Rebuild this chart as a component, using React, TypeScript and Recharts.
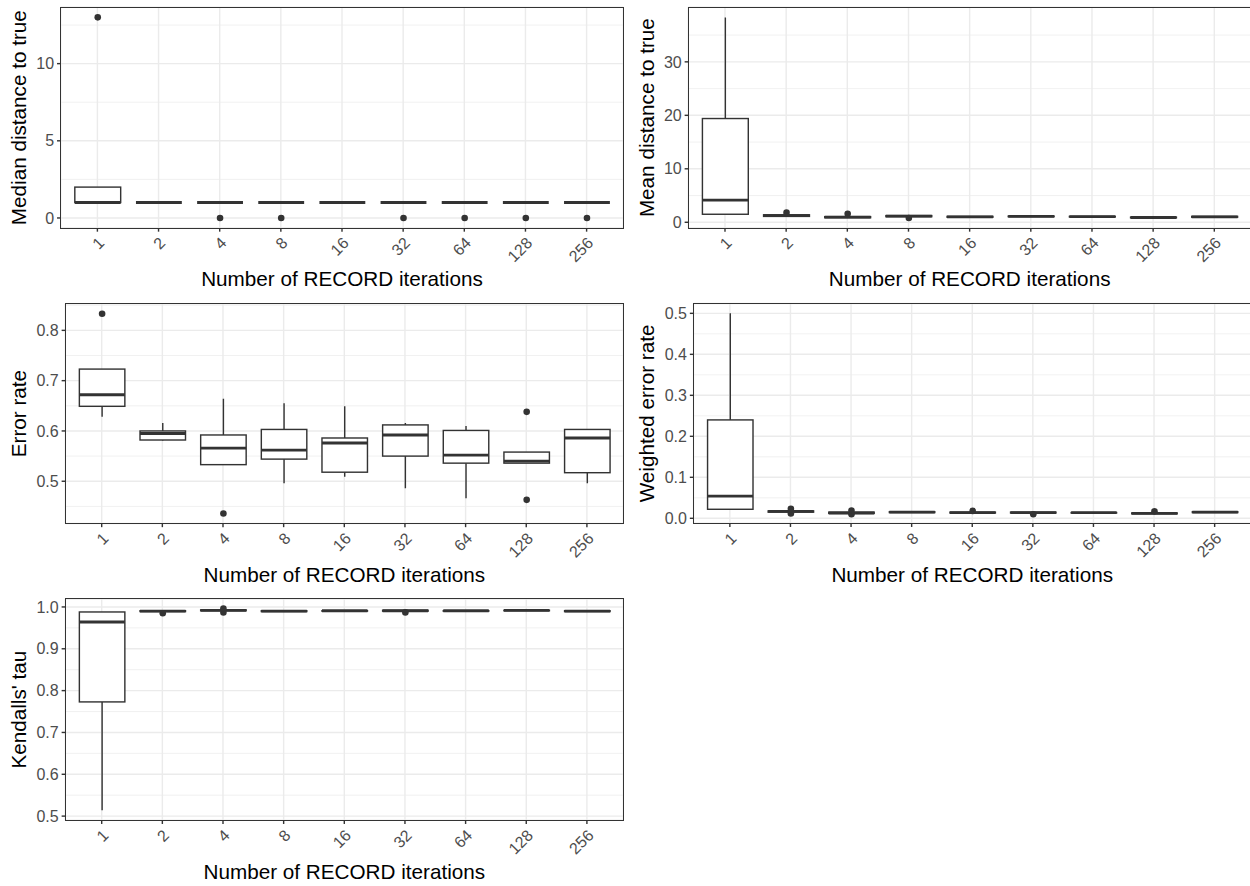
import React from 'react';
import { ComposedChart, Bar, XAxis, YAxis, CartesianGrid } from 'recharts';

const categories = ['1', '2', '4', '8', '16', '32', '64', '128', '256'];
const xTitle = 'Number of RECORD iterations';

// Panel 1: Median distance to true
const medDistLo = [1, 1, 1, 1, 1, 1, 1, 1, 1];
const medDistQ1 = [1, 1, 1, 1, 1, 1, 1, 1, 1];
const medDistMed = [1, 1, 1, 1, 1, 1, 1, 1, 1];
const medDistQ3 = [2, 1, 1, 1, 1, 1, 1, 1, 1];
const medDistHi = [2, 1, 1, 1, 1, 1, 1, 1, 1];
const medDistOut = [[13], [], [0], [0], [], [0], [0], [0], [0]];
const medDistTicks = [0, 5, 10];
const medDistMinor = [2.5, 7.5, 12.5];
const medDistDomain = [-0.65, 13.65];

// Panel 2: Mean distance to true
const meanDistLo = [1.5, 1.0, 0.8, 1.0, 0.9, 1.0, 0.95, 0.8, 0.9];
const meanDistQ1 = [1.5, 1.1, 0.85, 1.05, 0.95, 1.05, 1.0, 0.85, 0.95];
const meanDistMed = [4.15, 1.25, 0.95, 1.15, 1.0, 1.1, 1.05, 0.9, 1.0];
const meanDistQ3 = [19.4, 1.4, 1.05, 1.25, 1.1, 1.15, 1.1, 0.95, 1.1];
const meanDistHi = [38.3, 1.45, 1.1, 1.3, 1.15, 1.2, 1.15, 1.0, 1.15];
const meanDistOut = [[], [1.8], [1.6], [0.8], [], [], [], [], []];
const meanDistTicks = [0, 10, 20, 30];
const meanDistMinor = [5, 15, 25, 35];
const meanDistDomain = [-1.07, 40.2];

// Panel 3: Error rate
const errLo = [0.628, 0.581, 0.533, 0.496, 0.509, 0.486, 0.466, 0.536, 0.496];
const errQ1 = [0.649, 0.582, 0.533, 0.544, 0.518, 0.55, 0.536, 0.536, 0.517];
const errMed = [0.672, 0.595, 0.566, 0.562, 0.576, 0.592, 0.552, 0.54, 0.586];
const errQ3 = [0.723, 0.6, 0.592, 0.603, 0.586, 0.612, 0.601, 0.558, 0.603];
const errHi = [0.723, 0.616, 0.664, 0.655, 0.649, 0.616, 0.61, 0.558, 0.603];
const errOut = [[0.833], [], [0.436], [], [], [], [], [0.638, 0.463], []];
const errTicks = [0.5, 0.6, 0.7, 0.8];
const errMinor = [0.45, 0.55, 0.65, 0.75, 0.85];
const errDomain = [0.416, 0.853];

// Panel 4: Weighted error rate
const wErrLo = [0.022, 0.014, 0.011, 0.014, 0.013, 0.013, 0.013, 0.011, 0.014];
const wErrQ1 = [0.022, 0.015, 0.012, 0.014, 0.013, 0.013, 0.013, 0.011, 0.014];
const wErrMed = [0.054, 0.017, 0.013, 0.015, 0.014, 0.014, 0.014, 0.012, 0.015];
const wErrQ3 = [0.24, 0.018, 0.015, 0.016, 0.015, 0.015, 0.014, 0.013, 0.016];
const wErrHi = [0.5, 0.02, 0.016, 0.017, 0.016, 0.016, 0.015, 0.014, 0.016];
const wErrOut = [[], [0.012, 0.023], [0.01, 0.019], [], [0.018], [0.01], [], [0.017], []];
const wErrTicks = [0, 0.1, 0.2, 0.3, 0.4, 0.5];
const wErrMinor = [0.05, 0.15, 0.25, 0.35, 0.45];
const wErrDomain = [-0.0122, 0.524];

// Panel 5: Kendalls' tau
const tauLo = [0.514, 0.989, 0.99, 0.989, 0.99, 0.99, 0.99, 0.991, 0.989];
const tauQ1 = [0.773, 0.989, 0.991, 0.989, 0.99, 0.99, 0.99, 0.991, 0.989];
const tauMed = [0.964, 0.99, 0.992, 0.99, 0.991, 0.991, 0.991, 0.992, 0.99];
const tauQ3 = [0.988, 0.991, 0.993, 0.991, 0.991, 0.992, 0.991, 0.992, 0.991];
const tauHi = [0.988, 0.992, 0.994, 0.991, 0.992, 0.992, 0.992, 0.993, 0.991];
const tauOut = [[], [0.985], [0.987, 0.996], [], [], [0.987], [], [], []];
const tauTicks = [0.5, 0.6, 0.7, 0.8, 0.9, 1.0];
const tauMinor = [0.55, 0.65, 0.75, 0.85, 0.95];
const tauDomain = [0.49, 1.019];

const FONT = '"Liberation Sans", Arial, Helvetica, sans-serif';
const DARK = '#333333';
const GRID = '#EBEBEB';
const TICK_TEXT = '#4D4D4D';
const TICK_FS = 16;
const TITLE_FS = 20.7;
const TICK_LEN = 3.67;
const LW = 1.42;

function buildRows(lo: number[], q1: number[], med: number[], q3: number[], hi: number[], out: number[][]) {
  return categories.map((cat, i) => {
    const all = [lo[i], hi[i], ...out[i]];
    return {
      cat,
      lo: lo[i],
      q1: q1[i],
      med: med[i],
      q3: q3[i],
      hi: hi[i],
      out: out[i],
      range: [Math.min(...all), Math.max(...all)],
    };
  });
}

const BoxShape = (props: any) => {
  const { x, y, width, height, payload } = props;
  if (payload == null || x == null || y == null) return null;
  const [rmin, rmax] = payload.range;
  const h = height || 0;
  const top = Math.min(y, y + h);
  const bot = Math.max(y, y + h);
  const pix = (v: number) => (rmax > rmin ? bot - ((v - rmin) / (rmax - rmin)) * (bot - top) : top);
  const cx = x + width / 2;
  const yq3 = pix(payload.q3);
  const yq1 = pix(payload.q1);
  return (
    <g>
      <line x1={cx} x2={cx} y1={pix(payload.hi)} y2={yq3} stroke={DARK} strokeWidth={LW} />
      <line x1={cx} x2={cx} y1={pix(payload.lo)} y2={yq1} stroke={DARK} strokeWidth={LW} />
      <rect x={x} y={yq3} width={width} height={Math.max(0, yq1 - yq3)} fill="#FFFFFF" stroke={DARK} strokeWidth={LW} />
      <line x1={x} x2={x + width} y1={pix(payload.med)} y2={pix(payload.med)} stroke={DARK} strokeWidth={LW * 2} />
      {payload.out.map((v: number, k: number) => (
        <circle key={k} cx={cx} cy={pix(v)} r={3.3} fill={DARK} />
      ))}
    </g>
  );
};

const XTick = (props: any) => {
  const { x, y, payload } = props;
  return (
    <text
      transform={`translate(${x + 7.8},${y + 12.4}) rotate(-45)`}
      textAnchor="end"
      fontSize={TICK_FS}
      fill={TICK_TEXT}
      fontFamily={FONT}
    >
      {payload.value}
    </text>
  );
};

type PanelCfg = {
  title: string;
  rows: any[];
  domain: number[];
  ticks: number[];
  minor: number[];
  fmt: (v: number) => string;
  x0: number;
  y0: number;
  w: number;
  h: number;
  L: number;
  T: number;
  R: number;
  B: number;
  titleX: number;
};

const Panel = ({ cfg }: { cfg: PanelCfg }) => {
  const { L, T, R, B, w, h } = cfg;
  const pw = R - L;
  const unit = pw / 9.2;
  const pad = unit * 0.1;
  const barSize = unit * 0.75;
  return (
    <div style={{ position: 'absolute', left: cfg.x0, top: cfg.y0, width: w, height: h }}>
      <ComposedChart
        width={w}
        height={h}
        data={cfg.rows}
        margin={{ top: T, right: w - R, bottom: 0, left: 0 }}
        style={{ fontFamily: FONT }}
      >
        <CartesianGrid
          stroke={GRID}
          strokeWidth={LW / 2}
          vertical={false}
          horizontalValues={cfg.minor}
        />
        <CartesianGrid stroke={GRID} strokeWidth={LW} />
        <XAxis
          dataKey="cat"
          type="category"
          interval={0}
          padding={{ left: pad, right: pad }}
          height={h - B}
          tickSize={TICK_LEN}
          tickMargin={0}
          axisLine={false}
          tickLine={{ stroke: DARK, strokeWidth: LW }}
          tick={<XTick />}
          label={() => (
            <text
              x={L + pw / 2}
              y={B + 58.4}
              textAnchor="middle"
              fontSize={TITLE_FS}
              fill="#000000"
              fontFamily={FONT}
            >
              {xTitle}
            </text>
          )}
        />
        <YAxis
          type="number"
          domain={cfg.domain}
          ticks={cfg.ticks}
          allowDataOverflow
          interval={0}
          width={L}
          tickSize={TICK_LEN}
          tickMargin={2.93}
          axisLine={false}
          tickLine={{ stroke: DARK, strokeWidth: LW }}
          tick={{ fontSize: TICK_FS, fill: TICK_TEXT, fontFamily: FONT }}
          tickFormatter={cfg.fmt}
          label={() => (
            <text
              transform={`translate(${cfg.titleX},${(T + B) / 2}) rotate(-90)`}
              textAnchor="middle"
              fontSize={TITLE_FS}
              fill="#000000"
              fontFamily={FONT}
            >
              {cfg.title}
            </text>
          )}
        />
        <Bar dataKey="range" barSize={barSize} shape={<BoxShape />} isAnimationActive={false} />
      </ComposedChart>
      <div
        style={{
          position: 'absolute',
          left: L - LW / 2,
          top: T - LW / 2,
          width: pw + LW,
          height: B - T + LW,
          border: `${LW}px solid ${DARK}`,
          boxSizing: 'border-box',
          pointerEvents: 'none',
        }}
      />
    </div>
  );
};

const int = (v: number) => String(v);
const one = (v: number) => v.toFixed(1);

const panels: PanelCfg[] = [
  {
    title: 'Median distance to true',
    rows: buildRows(medDistLo, medDistQ1, medDistMed, medDistQ3, medDistHi, medDistOut),
    domain: medDistDomain, ticks: medDistTicks, minor: medDistMinor, fmt: int,
    x0: 0, y0: 0, w: 625, h: 295, L: 60.7, T: 7.3, R: 623.3, B: 228, titleX: 25.5,
  },
  {
    title: 'Mean distance to true',
    rows: buildRows(meanDistLo, meanDistQ1, meanDistMed, meanDistQ3, meanDistHi, meanDistOut),
    domain: meanDistDomain, ticks: meanDistTicks, minor: meanDistMinor, fmt: int,
    x0: 625, y0: 0, w: 628, h: 295, L: 63.3, T: 7.3, R: 626, B: 228, titleX: 28.8,
  },
  {
    title: 'Error rate',
    rows: buildRows(errLo, errQ1, errMed, errQ3, errHi, errOut),
    domain: errDomain, ticks: errTicks, minor: errMinor, fmt: one,
    x0: 0, y0: 295, w: 625, h: 295, L: 65.3, T: 8.7, R: 623.3, B: 228.5, titleX: 25.5,
  },
  {
    title: 'Weighted error rate',
    rows: buildRows(wErrLo, wErrQ1, wErrMed, wErrQ3, wErrHi, wErrOut),
    domain: wErrDomain, ticks: wErrTicks, minor: wErrMinor, fmt: one,
    x0: 625, y0: 295, w: 628, h: 295, L: 68.5, T: 8.5, R: 626, B: 228.3, titleX: 28.8,
  },
  {
    title: "Kendalls' tau",
    rows: buildRows(tauLo, tauQ1, tauMed, tauQ3, tauHi, tauOut),
    domain: tauDomain, ticks: tauTicks, minor: tauMinor, fmt: one,
    x0: 0, y0: 590, w: 625, h: 296, L: 65.3, T: 9, R: 623.3, B: 230.3, titleX: 25.5,
  },
];

export default function App() {
  return (
    <div
      style={{
        position: 'absolute',
        left: 0,
        top: 0,
        width: 1250,
        height: 886,
        overflow: 'hidden',
        background: '#FFFFFF',
        fontFamily: FONT,
      }}
    >
      {panels.map((p, i) => (
        <Panel key={i} cfg={p} />
      ))}
    </div>
  );
}
